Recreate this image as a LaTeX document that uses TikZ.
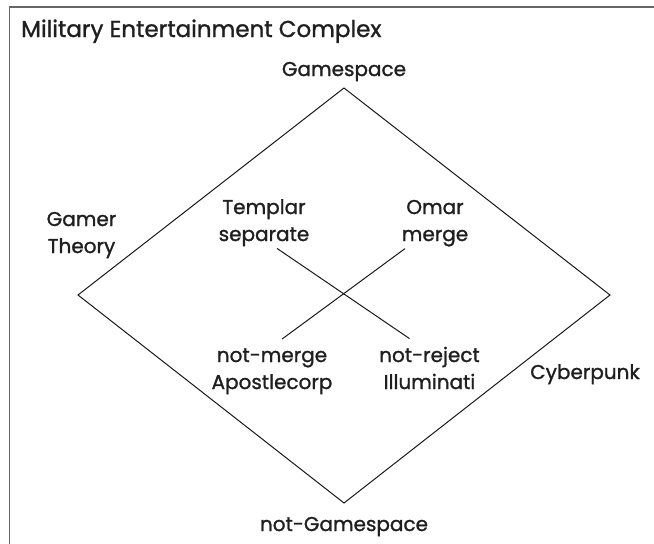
\documentclass[tikz,border=0pt]{standalone}
\usepackage{fontspec}
\setmainfont{Poppins}[BoldFont=Poppins, BoldFeatures={FakeBold=1.2}]
\usepackage{tikz}
\usetikzlibrary{arrows,positioning}

\begin{document}
\begin{tikzpicture}[x=1pt,y=-1pt]
\tikzstyle{every node}=[font=\bfseries\fontsize{20}{27}\selectfont, text=black!88, inner sep=2pt]
\tikzstyle{pair}=[align=center, anchor=base]
\tikzstyle{border}=[draw=black!60, line width=1.6pt]
\tikzstyle{cross}=[draw=black!90, line width=1pt]

\useasboundingbox (0,0) rectangle (654,544);
\draw[border] (9.5,546) |- (656,6.8);

\coordinate (n) at (344,88);
\coordinate (e) at (610,295);
\coordinate (s) at (344,503);
\coordinate (w) at (78,295);
\draw[cross] (n) -- (e) -- (s) -- (w) -- cycle;

\node[anchor=base west, font=\bfseries\fontsize{23}{27}\selectfont] (title) at (19,37) {Military Entertainment Complex};
\node[anchor=base] (game) at (344,76) {Gamespace};
\node[anchor=base] (notgame) at (344,531) {not-Gamespace};
\node[anchor=base] (cyber) at (585,379) {Cyberpunk};

% the base of a two-line node is its last line
\node[pair] (theory) at (81.5,253) {Gamer\\Theory};
\node[pair] (templar) at (264,241) {Templar\\separate};
\node[pair] (omar) at (435,241) {Omar\\merge};
\node[pair] (notmerge) at (272,389) {not-merge\\Apostlecorp};
\node[pair] (notreject) at (429.5,389) {not-reject\\Illuminati};

\draw[cross] ([xshift=13pt]templar.south) -- ([xshift=-20pt,yshift=6pt]notreject.north);
\draw[cross] ([xshift=-30pt]omar.south) -- ([xshift=10pt,yshift=7pt]notmerge.north);
\end{tikzpicture}
\end{document}
